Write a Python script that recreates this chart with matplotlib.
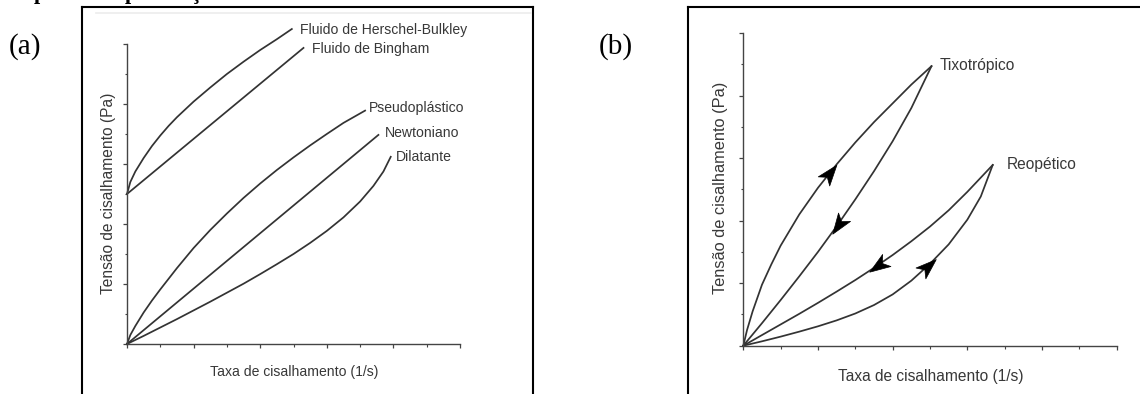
import numpy as np
import matplotlib.pyplot as plt
from matplotlib.lines import Line2D
from matplotlib.markers import MarkerStyle
from matplotlib.path import Path
from matplotlib.ticker import MultipleLocator
from matplotlib.transforms import Affine2D

plt.rcParams['font.family'] = ['Liberation Sans', 'DejaVu Sans']

W, H = 1140, 394

# --- panel (a): flow curves ---
hb_x = [0, 0.1, 0.25, 0.5, 0.75, 1, 1.25, 1.5, 2, 2.5, 3, 3.5, 4, 4.5, 4.95]
hb_y = [5.0, 5.4, 5.75, 6.2, 6.6, 6.95, 7.27, 7.56, 8.08, 8.55, 9.0, 9.41, 9.8, 10.16, 10.5]
bing_x = [0, 5.3]
bing_y = [5.0, 9.87]
pseudo_x = [0, 0.1, 0.25, 0.5, 0.75, 1, 1.5, 2, 2.5, 3, 3.5, 4, 4.5, 5, 5.5, 6, 6.5, 7.15]
pseudo_y = [0, 0.3, 0.6, 1.05, 1.45, 1.82, 2.53, 3.2, 3.8, 4.35, 4.87, 5.35, 5.8, 6.22,
            6.62, 7.0, 7.37, 7.78]
newt_x = [0, 7.55]
newt_y = [0, 6.97]
dil_x = [0, 0.5, 1, 1.5, 2, 2.5, 3, 3.5, 4, 4.5, 5, 5.5, 6, 6.5, 7, 7.4, 7.7, 7.92]
dil_y = [0, 0.27, 0.55, 0.83, 1.12, 1.41, 1.71, 2.01, 2.33, 2.66, 3.0, 3.37, 3.77, 4.22,
         4.75, 5.27, 5.75, 6.24]

labels_a = ['Fluido de Herschel-Bulkley', 'Fluido de Bingham', 'Pseudoplástico',
            'Newtoniano', 'Dilatante']

# --- panel (b): hysteresis loops ---
tixo_up_x = [0, 0.1, 0.25, 0.5, 0.75, 1, 1.5, 2, 2.5, 3, 3.5, 4, 4.5, 5.04]
tixo_up_y = [0, 0.5, 1.1, 1.95, 2.6, 3.2, 4.2, 5.05, 5.8, 6.5, 7.15, 7.75, 8.35, 8.94]
tixo_dn_x = [0, 0.5, 1, 1.5, 2, 2.5, 3, 3.5, 4, 4.5, 5.04]
tixo_dn_y = [0, 0.72, 1.46, 2.22, 3.0, 3.82, 4.68, 5.58, 6.54, 7.6, 8.94]
reo_dn_x = [0, 0.5, 1, 1.5, 2, 2.5, 3, 3.5, 4, 4.5, 5, 5.5, 6, 6.68]
reo_dn_y = [0, 0.34, 0.68, 1.02, 1.37, 1.73, 2.1, 2.49, 2.9, 3.34, 3.81, 4.33, 4.92, 5.78]
reo_up_x = [0, 0.5, 1, 1.5, 2, 2.5, 3, 3.5, 4, 4.5, 5, 5.5, 6, 6.36, 6.68]
reo_up_y = [0, 0.14, 0.29, 0.45, 0.62, 0.81, 1.03, 1.3, 1.64, 2.08, 2.62, 3.24, 4.03, 4.77, 5.78]

labels_b = ['Tixotrópico', 'Reopético']

LINE = '#333333'
AXC = '#444444'
TXT = '#383838'


def px2fig(x, y):
    return x / W, 1 - y / H


def makeAxes(fig, left, top, right, bottom):
    x0, y0 = px2fig(left, bottom)
    x1, y1 = px2fig(right, top)
    ax = fig.add_axes([x0, y0, x1 - x0, y1 - y0])
    ax.set_xlim(0, 10)
    ax.set_ylim(0, 10)
    for s in ['top', 'right']:
        ax.spines[s].set_visible(False)
    for s in ['left', 'bottom']:
        ax.spines[s].set_color(AXC)
        ax.spines[s].set_linewidth(1.0)
    ax.xaxis.set_major_locator(MultipleLocator(2))
    ax.xaxis.set_minor_locator(MultipleLocator(1))
    ax.yaxis.set_major_locator(MultipleLocator(2))
    ax.yaxis.set_minor_locator(MultipleLocator(1))
    ax.tick_params(which='major', direction='out', length=3.2, width=0.9, color=AXC,
                   labelbottom=False, labelleft=False)
    ax.tick_params(which='minor', direction='out', length=1.8, width=0.8, color=AXC)
    ax.patch.set_alpha(0)
    return ax


def frame(fig, left, top, right, sides):
    kw = dict(color='black', lw=1.5, transform=fig.transFigure)
    pts = {
        'left': [(left, top), (left, H)],
        'top': [(left, top), (right, top)],
        'right': [(right, top), (right, H)],
    }
    for s in sides:
        (xa, ya), (xb, yb) = pts[s]
        fa, fb = px2fig(xa, ya), px2fig(xb, yb)
        fig.add_artist(Line2D([fa[0], fb[0]], [fa[1], fb[1]], **kw))


arrow_path = Path([(1, 0), (-0.75, 0.62), (-0.3, 0), (-0.75, -0.62), (1, 0)],
                  [Path.MOVETO, Path.LINETO, Path.LINETO, Path.LINETO, Path.CLOSEPOLY])


def drawArrow(ax, xs, ys, x0, direction):
    y0 = np.interp(x0, xs, ys)
    p0 = ax.transData.transform((x0 - 0.05, np.interp(x0 - 0.05, xs, ys)))
    p1 = ax.transData.transform((x0 + 0.05, np.interp(x0 + 0.05, xs, ys)))
    angle = np.degrees(np.arctan2(p1[1] - p0[1], p1[0] - p0[0]))
    if direction < 0:
        angle += 180
    m = MarkerStyle(arrow_path, transform=Affine2D().rotate_deg(angle))
    ax.plot([x0], [y0], marker=m, ms=17, color='black', mec='black', mew=0.5,
            linestyle='none', clip_on=False, zorder=5)


def main():
    fig = plt.figure(figsize=(W / 100, H / 100), dpi=100)

    # bottom edge of the caption line above, cut off by the crop
    for ch, xp, ha in [('p', 34, 'left'), ('p', 125, 'left'), ('ç', 195, 'center')]:
        fig.text(xp / W, 1 + 1 / H, ch, family='Liberation Serif', weight='bold',
                 fontsize=16, ha=ha, va='baseline', color='black')

    # frames round each picture
    frame(fig, 82, 7, 533, ['left', 'top', 'right'])
    frame(fig, 688, 7, W + 5, ['left', 'top'])
    fa, fb = px2fig(96, 13), px2fig(531, 13)
    fig.add_artist(Line2D([fa[0], fb[0]], [fa[1], fb[1]], color='#ececec', lw=1.2,
                          transform=fig.transFigure))

    fig.text(*px2fig(25.5, 47), '(a)', family='Liberation Serif', fontsize=21,
             ha='center', va='center', color='black')
    fig.text(*px2fig(616, 47), '(b)', family='Liberation Serif', fontsize=21,
             ha='center', va='center', color='black')

    # ---- (a)
    ax = makeAxes(fig, 127, 44, 460, 344)
    curves = [(hb_x, hb_y), (bing_x, bing_y), (pseudo_x, pseudo_y),
              (newt_x, newt_y), (dil_x, dil_y)]
    offsets = [(8, -1), (9, -1), (4, 2.5), (6, 2), (5, 0)]
    for (xs, ys), lab, off in zip(curves, labels_a, offsets):
        ax.plot(xs, ys, color=LINE, lw=1.25, clip_on=False, solid_joinstyle='round')
        ax.annotate(lab, xy=(xs[-1], ys[-1]), xytext=off, textcoords='offset pixels',
                    ha='left', va='center', fontsize=10.1, color=TXT,
                    annotation_clip=False)
    fig.text(*px2fig(294, 372), 'Taxa de cisalhamento (1/s)', ha='center', va='center',
             fontsize=10.1, color=TXT)
    fig.text(*px2fig(108, 193), 'Tensão de cisalhamento (Pa)', ha='center', va='center',
             rotation=90, fontsize=11.2, color=TXT)

    # ---- (b)
    bx = makeAxes(fig, 743.3, 33, 1116.7, 345.7)
    loops = [(tixo_up_x, tixo_up_y), (tixo_dn_x, tixo_dn_y),
             (reo_dn_x, reo_dn_y), (reo_up_x, reo_up_y)]
    for xs, ys in loops:
        bx.plot(xs, ys, color=LINE, lw=1.25, clip_on=False, solid_joinstyle='round')
    bx.annotate(labels_b[0], xy=(tixo_up_x[-1], tixo_up_y[-1]), xytext=(8, 1),
                textcoords='offset pixels', ha='left', va='center', fontsize=11.2, color=TXT)
    bx.annotate(labels_b[1], xy=(reo_up_x[-1], reo_up_y[-1]), xytext=(14, 0),
                textcoords='offset pixels', ha='left', va='center', fontsize=11.2, color=TXT)

    drawArrow(bx, tixo_up_x, tixo_up_y, 2.29, 1)
    drawArrow(bx, tixo_dn_x, tixo_dn_y, 2.55, -1)
    drawArrow(bx, reo_dn_x, reo_dn_y, 3.63, -1)
    drawArrow(bx, reo_up_x, reo_up_y, 4.91, 1)

    fig.text(*px2fig(931, 377), 'Taxa de cisalhamento (1/s)', ha='center', va='center',
             fontsize=11.2, color=TXT)
    fig.text(*px2fig(721, 188), 'Tensão de cisalhamento (Pa)', ha='center', va='center',
             rotation=90, fontsize=11.8, color=TXT)

    fig.savefig('out.png', dpi=100)


if __name__ == "__main__":
    main()
